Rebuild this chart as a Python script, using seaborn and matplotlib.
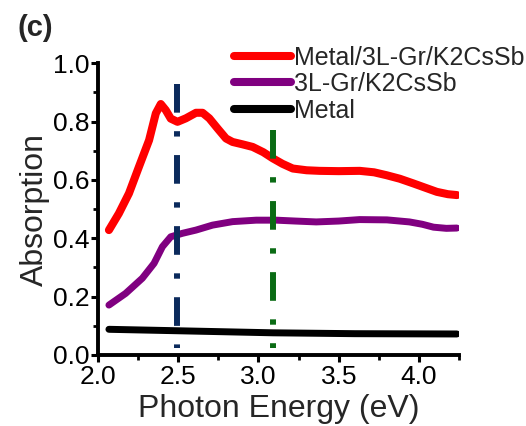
import matplotlib
matplotlib.use("Agg")
import matplotlib.pyplot as plt
import seaborn as sns
import pandas as pd
from matplotlib.ticker import MultipleLocator

# Data
red_x = [2.069, 2.131, 2.194, 2.256, 2.319, 2.361, 2.392, 2.423, 2.454, 2.496, 2.548, 2.611, 2.652, 2.694, 2.746, 2.798, 2.839, 2.90, 2.964, 3.03, 3.089, 3.15, 3.214, 3.30, 3.381, 3.50, 3.631, 3.72, 3.798, 3.88, 3.964, 4.04, 4.111, 4.18, 4.236]
red_y = [0.428, 0.485, 0.554, 0.645, 0.736, 0.828, 0.860, 0.839, 0.810, 0.799, 0.811, 0.830, 0.830, 0.811, 0.776, 0.742, 0.730, 0.722, 0.713, 0.695, 0.674, 0.655, 0.639, 0.633, 0.631, 0.630, 0.631, 0.626, 0.616, 0.604, 0.588, 0.573, 0.559, 0.551, 0.548]
pur_x = [2.069, 2.173, 2.277, 2.35, 2.402, 2.454, 2.527, 2.611, 2.714, 2.839, 2.986, 3.111, 3.23, 3.36, 3.50, 3.63, 3.80, 3.94, 4.02, 4.09, 4.17, 4.236]
pur_y = [0.171, 0.211, 0.263, 0.314, 0.371, 0.405, 0.417, 0.428, 0.445, 0.457, 0.462, 0.462, 0.459, 0.456, 0.459, 0.464, 0.463, 0.456, 0.448, 0.438, 0.434, 0.435]
blk_x = [2.069, 2.50, 3.09, 3.60, 4.236]
blk_y = [0.088, 0.083, 0.076, 0.073, 0.072]
vline_x = [2.49, 3.09]
vline_top = [0.93, 0.77]
vline_bottom = [0.025, 0.025]
labels = ["Metal/3L-Gr/K2CsSb", "3L-Gr/K2CsSb", "Metal"]
xticks = [2.0, 2.5, 3.0, 3.5, 4.0]
yticks = [0.0, 0.2, 0.4, 0.6, 0.8, 1.0]

sns.set_theme(style="ticks")
plt.rcParams["font.family"] = ["Liberation Sans", "DejaVu Sans"]

fig = plt.figure(figsize=(5.26, 4.26), dpi=100)
ax = fig.add_axes([0.186, 0.1667, 0.687, 0.685])

df_r = pd.DataFrame({"x": red_x, "y": red_y})
df_p = pd.DataFrame({"x": pur_x, "y": pur_y})
df_b = pd.DataFrame({"x": blk_x, "y": blk_y})

kw = dict(solid_capstyle="round", solid_joinstyle="round")
sns.lineplot(data=df_r, x="x", y="y", ax=ax, color="#ff0000", lw=5.8, label=labels[0], **kw)
sns.lineplot(data=df_p, x="x", y="y", ax=ax, color="#800080", lw=5.0, label=labels[1], **kw)
sns.lineplot(data=df_b, x="x", y="y", ax=ax, color="#000000", lw=5.0, label=labels[2], **kw)

dash = (0, (4.8, 3.1, 0.9, 3.1))
ax.plot([vline_x[0], vline_x[0]], [vline_top[0], vline_bottom[0]], color="#0b2a5c", lw=4.3,
        linestyle=dash, dash_capstyle="butt")
ax.plot([vline_x[1], vline_x[1]], [vline_top[1], vline_bottom[1]], color="#0a6b14", lw=4.3,
        linestyle=dash, dash_capstyle="butt")

ax.set_xlim(2.0, 4.25)
ax.set_ylim(0.0, 1.0)
ax.set_xticks(xticks)
ax.set_yticks(yticks)
ax.set_xticklabels([f"{v:.1f}" for v in xticks])
ax.set_yticklabels([f"{v:.1f}" for v in yticks])
ax.xaxis.set_minor_locator(MultipleLocator(0.25))
ax.yaxis.set_minor_locator(MultipleLocator(0.1))
ax.tick_params(which="major", direction="out", length=5, width=2.2, labelsize=19, colors="black")
ax.tick_params(axis="y", which="major", pad=1)
ax.tick_params(axis="x", which="major", pad=2)
ax.tick_params(which="minor", direction="out", length=3.5, width=2.0, colors="black")
for s in ["top", "right"]:
    ax.spines[s].set_visible(False)
for s in ["left", "bottom"]:
    ax.spines[s].set_linewidth(2.8)
    ax.spines[s].set_color("black")

ax.set_xlabel("Photon Energy (eV)", fontsize=23, labelpad=4)
ax.set_ylabel("Absorption", fontsize=23, labelpad=2)

leg = ax.legend(loc="upper right", bbox_to_anchor=(0.997, 0.893), bbox_transform=fig.transFigure,
                frameon=False, fontsize=18, handlelength=2.3, handletextpad=0.1,
                labelspacing=0.1, borderpad=0.0, borderaxespad=0.0)
for h in leg.get_lines():
    h.set_linewidth(5.8)
    h.set_solid_capstyle("round")

fig.text(0.034, 0.967, "(c)", fontsize=21, fontweight="bold", va="top", ha="left")

fig.savefig("out.png", dpi=100)
